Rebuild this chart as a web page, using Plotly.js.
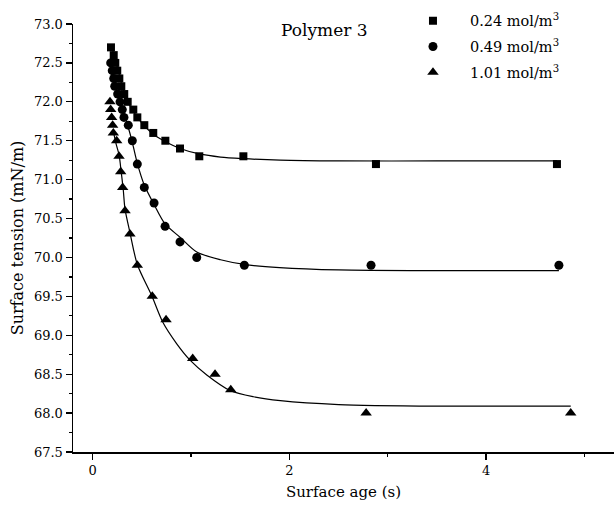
<!DOCTYPE html>
<html>
<head>
<meta charset="utf-8">
<script src="https://cdn.plot.ly/plotly-3.0.1.min.js"></script>
<style>html,body{margin:0;padding:0;background:#fff;}#chart{width:614px;height:506px;}</style>
</head>
<body>
<div id="chart"></div>
<script>
// Data
var seriesNames = ["0.24 mol/m<sup>3</sup>", "0.49 mol/m<sup>3</sup>", "1.01 mol/m<sup>3</sup>"];

var sqX = [0.186,0.214,0.230,0.250,0.271,0.291,0.321,0.356,0.413,0.454,0.525,0.616,0.739,0.888,1.084,1.532,2.88,4.72];
var sqY = [72.7,72.6,72.5,72.4,72.3,72.2,72.1,72.0,71.9,71.8,71.7,71.6,71.5,71.4,71.3,71.3,71.2,71.2];

var circX = [0.183,0.199,0.214,0.224,0.254,0.278,0.301,0.318,0.362,0.403,0.454,0.525,0.624,0.736,0.888,1.058,1.542,2.83,4.74];
var circY = [72.5,72.4,72.3,72.2,72.1,72.0,71.9,71.8,71.7,71.5,71.2,70.9,70.7,70.4,70.2,70.0,69.9,69.9,69.9];

var triX = [0.176,0.183,0.193,0.203,0.210,0.244,0.268,0.285,0.305,0.329,0.379,0.454,0.606,0.746,1.017,1.244,1.404,2.78,4.86];
var triY = [72.0,71.9,71.8,71.7,71.6,71.5,71.3,71.1,70.9,70.6,70.3,69.9,69.5,69.2,68.7,68.5,68.3,68.0,68.0];

// Fitted curves
var fitSqX = [0.19,0.25,0.30,0.35,0.413,0.454,0.549,0.64,0.736,0.888,1.084,1.30,1.53,1.905,2.5,3.5,4.72];
var fitSqY = [72.72,72.45,72.20,72.02,71.88,71.80,71.66,71.56,71.49,71.40,71.33,71.29,71.27,71.25,71.24,71.24,71.24];

var fitCircX = [0.25,0.30,0.36,0.403,0.454,0.525,0.624,0.736,0.888,1.058,1.30,1.542,1.90,2.5,3.5,4.74];
var fitCircY = [72.15,71.92,71.68,71.48,71.21,70.93,70.68,70.43,70.26,70.07,69.97,69.91,69.87,69.84,69.83,69.83];

var fitTriX = [0.21,0.24,0.268,0.29,0.311,0.329,0.379,0.454,0.60,0.712,0.855,0.99,1.16,1.397,1.634,1.908,2.5,3.5,4.86];
var fitTriY = [71.62,71.45,71.32,71.10,70.87,70.62,70.32,69.91,69.51,69.17,68.89,68.68,68.49,68.29,68.21,68.16,68.11,68.09,68.09];

var xTickVals = [0, 2, 4];
var yTickVals = [67.5,68.0,68.5,69.0,69.5,70.0,70.5,71.0,71.5,72.0,72.5,73.0];

var FONT = "DejaVu Serif, Liberation Serif, serif";

function fit(x, y) {
  return {x: x, y: y, type: "scatter", mode: "lines", showlegend: false, hoverinfo: "skip",
          line: {color: "#000", width: 1.2, shape: "spline", smoothing: 0.8}};
}
function pts(x, y, name, sym, size, grp) {
  return {x: x, y: y, type: "scatter", mode: "markers", name: name, cliponaxis: false, legendgroup: grp,
          marker: {symbol: sym, size: size, color: "#000"}};
}

var data = [
  fit(fitSqX, fitSqY), fit(fitCircX, fitCircY), fit(fitTriX, fitTriY),
  pts(sqX, sqY, seriesNames[0], "square", 8, "a"),
  pts(circX, circY, seriesNames[1], "circle", 9, "b"),
  pts(triX, triY, seriesNames[2], "triangle-up", 10, "c")
];

var layout = {
  width: 614, height: 506,
  margin: {l: 73, r: 0, t: 24, b: 54},
  paper_bgcolor: "#fff", plot_bgcolor: "#fff",
  font: {family: FONT, color: "#000", size: 13},
  showlegend: true,
  legend: {x: 0.597, y: 1.045, xanchor: "left", yanchor: "top", bgcolor: "rgba(0,0,0,0)",
           borderwidth: 0, itemwidth: 64, font: {family: FONT, size: 14.5, color: "#000"}, tracegroupgap: 4},
  xaxis: {range: [-0.2, 5.3], tickmode: "array", tickvals: xTickVals, ticktext: xTickVals.map(String),
          showgrid: false, zeroline: false, showline: true, linecolor: "#000", linewidth: 1.5,
          ticks: "outside", ticklen: 6, tickwidth: 1.3, tickcolor: "#000",
          minor: {dtick: 1, tick0: 0, ticks: "outside", ticklen: 3, tickwidth: 1.2, tickcolor: "#000", showgrid: false},
          tickfont: {family: FONT, size: 13},
          title: {text: "Surface age (s)", font: {family: FONT, size: 15}, standoff: 9}},
  yaxis: {range: [67.5, 73.0], tickmode: "array", tickvals: yTickVals, ticktext: yTickVals.map(function(v){return v.toFixed(1);}),
          showgrid: false, zeroline: false, showline: true, linecolor: "#000", linewidth: 1.5,
          ticks: "outside", ticklen: 6, tickwidth: 1.3, tickcolor: "#000",
          minor: {dtick: 0.25, tick0: 67.5, ticks: "outside", ticklen: 3, tickwidth: 1.2, tickcolor: "#000", showgrid: false},
          tickfont: {family: FONT, size: 13},
          title: {text: "Surface tension (mN/m)", font: {family: FONT, size: 16}, standoff: 6}},
  annotations: [{x: 2.36, y: 72.92, xref: "x", yref: "y", text: "Polymer 3", showarrow: false,
                 font: {family: FONT, size: 17, color: "#000"}}]
};

Plotly.newPlot("chart", data, layout, {displayModeBar: false, staticPlot: true});
</script>
</body>
</html>
